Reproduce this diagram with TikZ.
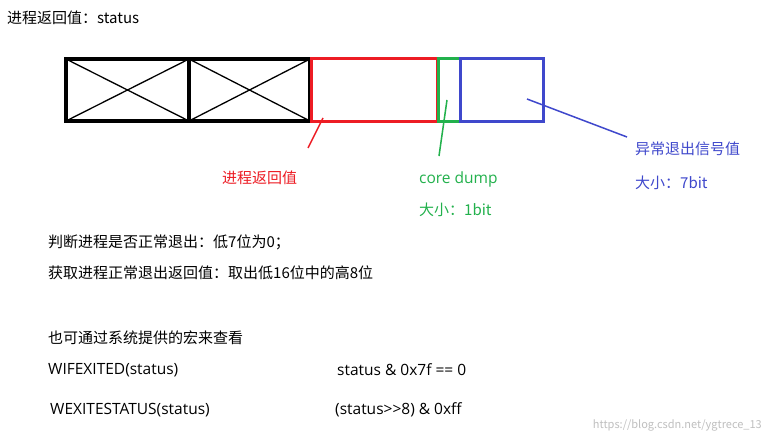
\documentclass[tikz,border=0pt]{standalone}
\usepackage{fontspec}
\setmainfont{Noto Sans CJK SC}
\newfontfamily\lat{Open Sans}
\definecolor{myred}{RGB}{237,28,36}
\definecolor{mygreen}{RGB}{34,177,76}
\definecolor{myblue}{RGB}{63,72,204}
\begin{document}
\begin{tikzpicture}[x=1pt,y=-1pt,
  txt/.style={anchor=west,inner sep=0,font=\fontsize{15}{18}\selectfont},
  ltxt/.style={anchor=west,inner sep=0,font=\lat\fontsize{15.5}{18}\selectfont},
  thickbox/.style={line width=4pt},
  mid/.style={line width=3pt}]
\useasboundingbox (0,0) rectangle (768,444);
\fill[white] (0,0) rectangle (768,444);
\node[txt] (title) at (7,18) {进程返回值：status};
% black part
\draw[line width=1.3pt] (66,59) -- (189,121) (66,121) -- (189,59) (189,59) -- (310,121) (189,121) -- (310,59);
\draw[thickbox] (66,59) rectangle (310,121);
\draw[thickbox] (189,59) -- (189,121);
\node[inner sep=0] (rbox) [draw=myred,mid,minimum width=126pt,minimum height=62pt] at (374,90) {};
\node[inner sep=0] (gbox) [draw=mygreen,mid,minimum width=22pt,minimum height=62pt] at (449,90) {};
\node[inner sep=0] (bbox) [draw=myblue,mid,minimum width=83pt,minimum height=62pt] at (502,90) {};
\coordinate (r1) at (323,118); \coordinate (r2) at (308,148);
\draw[myred,line width=1.5pt] (r1) -- (r2);
\coordinate (g1) at (447,100); \coordinate (g2) at (439,156);
\draw[mygreen,line width=1.5pt] (g1) -- (g2);
\coordinate (b1) at (527,99); \coordinate (b2) at (627,137);
\draw[myblue,line width=1.5pt] (b1) -- (b2);
\node[txt,text=myred] (lr) at (222,178) {进程返回值};
\node[ltxt,text=mygreen] (lg1) at (419,179) {core dump};
\node[txt,text=mygreen] (lg2) at (419,210) {大小：1bit};
\node[txt,text=myblue] (lb1) at (635,149) {异常退出信号值};
\node[txt,text=myblue] (lb2) at (635,183) {大小：7bit};
\node[txt] (t1) at (48,242) {判断进程是否正常退出：低7位为0；};
\node[txt] (t2) at (48,273) {获取进程正常退出返回值：取出低16位中的高8位};
\node[txt] (t3) at (48,338) {也可通过系统提供的宏来查看};
\node[ltxt] (t4) at (48,370) {WIFEXITED(status)};
\node[ltxt] (t5) at (337,370) {status \& 0x7f == 0};
\node[ltxt] (t6) at (50,410) {WEXITESTATUS(status)};
\node[ltxt] (t7) at (335,410) {(status>{}>8) \& 0xff};
\node[anchor=east,inner sep=0,text=black!25,font=\fontsize{11}{13}\selectfont] (wm) at (762,425) {https://blog.csdn.net/ygtrece\_13};
\end{tikzpicture}
\end{document}
